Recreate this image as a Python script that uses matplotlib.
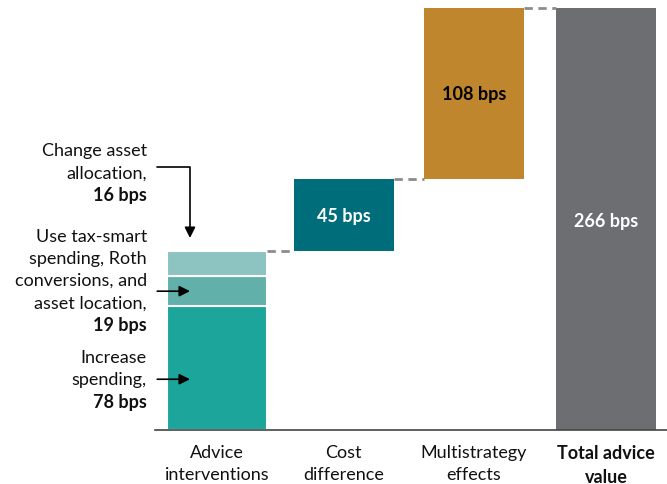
import matplotlib.pyplot as plt

plt.rcParams['font.family'] = ['Lato', 'DejaVu Sans']

# data (basis points)
categories = ['Advice\ninterventions', 'Cost\ndifference', 'Multistrategy\neffects', 'Total advice\nvalue']
advice_parts = [78, 19, 16]          # increase spending, tax-smart, asset allocation
advice_colors = ['#1ba59b', '#62b0aa', '#8dc3c0']
cost_diff = 45
multistrategy = 108
total = 266
total_label = 266

fig = plt.figure(figsize=(6.67, 4.85), dpi=100)
ax = fig.add_axes([155 / 667, 54 / 485, 512 / 667, 422 / 485])

w = 0.77
x = [0, 0.975, 1.975, 2.99]

# stacked advice bar
bottom = 0
for v, c in zip(advice_parts, advice_colors):
    ax.bar(x[0], v, w, bottom=bottom, color=c, edgecolor='white', linewidth=1.5)
    bottom += v
advice_top = bottom

cost_top = advice_top + cost_diff
ax.bar(x[1], cost_diff, w, bottom=advice_top, color='#006d7a', linewidth=0)
ax.bar(x[2], multistrategy, w, bottom=cost_top, color='#c0862e', linewidth=0)
ax.bar(x[3], total, w, color='#6d6e72', linewidth=0)

# dashed connectors
levels = [advice_top, cost_top, cost_top + multistrategy]
for i, lv in enumerate(levels):
    ax.plot([x[i] + w / 2, x[i + 1] - w / 2], [lv, lv], color='#8c8c8c',
            lw=2, dashes=(3, 2), solid_capstyle='butt', clip_on=False)

# value labels
ax.text(x[1], advice_top + cost_diff / 2, f'{cost_diff} bps', ha='center', va='center',
        color='white', fontsize=13, fontweight='bold')
ax.text(x[2], cost_top + multistrategy / 2, f'{multistrategy} bps', ha='center', va='center',
        color='black', fontsize=13, fontweight='bold')
ax.text(x[3], 132, f'{total_label} bps', ha='center', va='center',
        color='white', fontsize=13, fontweight='bold')

# left annotations
step = 13.9
lx = -0.54
notes = [
    (['Change asset', 'allocation,'], f'{advice_parts[2]} bps', 176.4),
    (['Use tax-smart', 'spending, Roth', 'conversions, and', 'asset location,'], f'{advice_parts[1]} bps', 122.3),
    (['Increase', 'spending,'], f'{advice_parts[0]} bps', 46),
]
for lines, bold, y0 in notes:
    for k, ln in enumerate(lines):
        ax.text(lx, y0 - k * step, ln, ha='right', va='center', fontsize=13, color='#111111')
    ax.text(lx, y0 - len(lines) * step, bold, ha='right', va='center', fontsize=13,
            fontweight='bold', color='#111111')

arrow = dict(arrowstyle='-|>', color='black', lw=1.2, mutation_scale=16, shrinkA=0, shrinkB=0)
ax.annotate('', xy=(-0.208, 121), xytext=(-0.46, 165.5),
            arrowprops=dict(arrow, connectionstyle='angle,angleA=0,angleB=90,rad=0'),
            annotation_clip=False)
ax.annotate('', xy=(-0.208, 87.5), xytext=(-0.46, 87.5), arrowprops=arrow, annotation_clip=False)
ax.annotate('', xy=(-0.208, 32), xytext=(-0.46, 32), arrowprops=arrow, annotation_clip=False)

ax.set_xlim(-0.477, 3.46)
ax.set_ylim(0, 266)
ax.set_xticks(x)
ax.set_xticklabels(categories, fontsize=13, color='#111111', linespacing=1.5)
ax.get_xticklabels()[3].set_fontweight('bold')
ax.tick_params(axis='x', length=0, pad=10)
ax.set_yticks([])
for s in ['top', 'left', 'right']:
    ax.spines[s].set_visible(False)
ax.spines['bottom'].set_color('#444444')
ax.spines['bottom'].set_linewidth(1.2)

fig.savefig('out.png', dpi=100)
